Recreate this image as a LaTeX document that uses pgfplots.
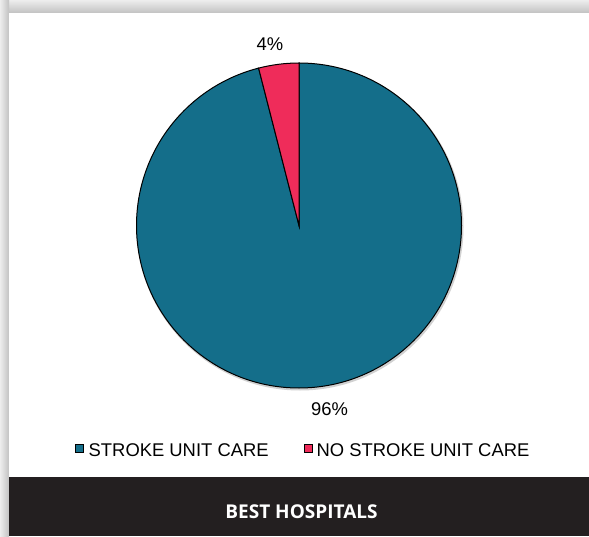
\documentclass[border=0pt]{standalone}
\usepackage{pgfplots}
\pgfplotsset{compat=1.18}
\usepackage{pgfplotstable}
\usepackage{fontspec}
\setmainfont{Liberation Sans}
\newfontfamily\opensans{Open Sans}
\definecolor{slicea}{HTML}{146E8A}
\definecolor{sliceb}{HTML}{EF2C5A}
\definecolor{barbg}{HTML}{231F20}
\pgfplotstableread{
id value
0 96
1 4
}\piedata
\begin{document}
\begin{tikzpicture}
\pgfplotstablegetelem{0}{value}\of\piedata \let\va\pgfplotsretval
\pgfplotstablegetelem{1}{value}\of\piedata \let\vb\pgfplotsretval
\pgfmathsetmacro\angA{90-3.6*\va}
\pgfmathsetmacro\angB{90+3.6*\vb}
\begin{axis}[
  scale only axis, width=589pt, height=536pt,
  xmin=0, xmax=589, ymin=0, ymax=536,
  hide axis, clip=false, at={(0,0)}, anchor=south west,
]
% background and card
\path (axis cs:0,0) rectangle (axis cs:589,536);
\shade[top color=black!7, bottom color=black!24] (axis cs:0,523) rectangle (axis cs:589,536);
\shade[left color=black!7, right color=black!24] (axis cs:0,0) rectangle (axis cs:9,536);
\fill[white] (axis cs:9,0) rectangle (axis cs:589,523);
\fill[barbg] (axis cs:9,0) rectangle (axis cs:589,59);
% pie shadow
\fill[black!18] (axis cs:300,309) circle[radius=163.5pt];
% slices
\fill[slicea, draw=black, line width=1pt] (axis cs:299,310.5) -- (axis cs:299,473)
  arc[start angle=90, end angle=\angA, radius=162.5pt] -- cycle;
\fill[sliceb, draw=black, line width=1pt] (axis cs:299,310.5) -- (axis cs:299,473)
  arc[start angle=90, end angle=\angB, radius=162.5pt] -- cycle;
% data labels
\node[anchor=base, inner sep=0, font=\fontsize{18.4}{20}\selectfont] at (axis cs:270,485) {4\%};
\node[anchor=base, inner sep=0, font=\fontsize{18.4}{20}\selectfont] at (axis cs:329.5,121) {96\%};
% legend
\filldraw[fill=slicea, draw=black, line width=0.8pt] (axis cs:75,84) rectangle (axis cs:83,92);
\node[anchor=base west, inner sep=0, font=\fontsize{18.4}{20}\selectfont] at (axis cs:88.5,80) {STROKE UNIT CARE};
\filldraw[fill=sliceb, draw=black, line width=0.8pt] (axis cs:304,84) rectangle (axis cs:312,92);
\node[anchor=base west, inner sep=0, font=\fontsize{18.4}{20}\selectfont] at (axis cs:316.5,80) {NO STROKE UNIT CARE};
% title bar
\node[anchor=base, inner sep=0, text=white, font=\opensans\bfseries\fontsize{19}{20}\selectfont] at (axis cs:301.5,17.7) {BEST HOSPITALS};
\end{axis}
\end{tikzpicture}
\end{document}
